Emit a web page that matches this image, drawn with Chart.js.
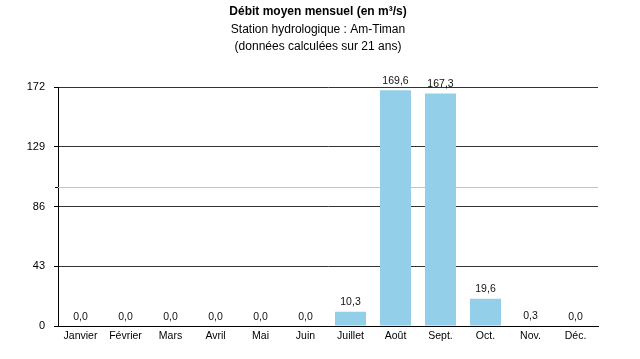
<!DOCTYPE html>
<html>
<head>
<meta charset="utf-8">
<script src="https://cdn.jsdelivr.net/npm/chart.js@4/dist/chart.umd.min.js"></script>
<style>
  html, body { margin: 0; padding: 0; background: #fff; }
  #wrap { width: 640px; height: 359px; }
</style>
</head>
<body>
<div id="wrap"><canvas id="c" width="640" height="359"></canvas></div>
<script>
const months = ['Janvier','Février','Mars','Avril','Mai','Juin','Juillet','Août','Sept.','Oct.','Nov.','Déc.'];
const debit = [0.0, 0.0, 0.0, 0.0, 0.0, 0.0, 10.3, 169.6, 167.3, 19.6, 0.3, 0.0];
const yTicks = [0, 43, 86, 129, 172];
const refLine = 100;
const titleText = 'Débit moyen mensuel (en m³/s)';
const subtitleLines = ['Station hydrologique : Am-Timan', '(données calculées sur 21 ans)'];

const FONT = '"Liberation Sans", Arial, Helvetica, sans-serif';

const headerPlugin = {
  id: 'header',
  afterDraw(chart) {
    const ctx = chart.ctx;
    const cx = 318;
    ctx.save();
    ctx.fillStyle = '#000';
    ctx.textAlign = 'center';
    ctx.textBaseline = 'middle';
    ctx.font = 'bold 12px ' + FONT;
    ctx.fillText(titleText, cx, 12);
    ctx.font = '12px ' + FONT;
    ctx.fillText(subtitleLines[0], cx, 30);
    ctx.fillText(subtitleLines[1], cx, 47);
    ctx.restore();
  }
};

const refLinePlugin = {
  id: 'refLine',
  beforeDatasetsDraw(chart) {
    const y = chart.scales.y;
    const area = chart.chartArea;
    const py = Math.round(y.getPixelForValue(refLine)) + 0.5;
    const ctx = chart.ctx;
    ctx.save();
    ctx.strokeStyle = '#c4c4c4';
    ctx.lineWidth = 1;
    ctx.beginPath();
    ctx.moveTo(area.left, py);
    ctx.lineTo(area.right, py);
    ctx.stroke();
    ctx.strokeStyle = '#000';
    ctx.beginPath();
    ctx.moveTo(area.left - 3, py);
    ctx.lineTo(area.left, py);
    ctx.stroke();
    ctx.restore();
  }
};

const valueLabels = {
  id: 'valueLabels',
  afterDatasetsDraw(chart) {
    const ctx = chart.ctx;
    const meta = chart.getDatasetMeta(0);
    ctx.save();
    ctx.font = '10.5px ' + FONT;
    ctx.fillStyle = '#111';
    ctx.textAlign = 'center';
    ctx.textBaseline = 'bottom';
    meta.data.forEach((bar, i) => {
      const v = chart.data.datasets[0].data[i];
      const txt = v.toFixed(1).replace('.', ',');
      ctx.fillText(txt, bar.x, bar.y - 4);
    });
    ctx.restore();
  }
};

new Chart(document.getElementById('c'), {
  type: 'bar',
  data: {
    labels: months,
    datasets: [{
      data: debit,
      backgroundColor: '#94cfea',
      borderWidth: 0,
      barPercentage: 0.69,
      categoryPercentage: 1.0
    }]
  },
  options: {
    responsive: false,
    animation: false,
    devicePixelRatio: 1,
    layout: { padding: { left: 0, right: 42, top: 87, bottom: 0 } },
    plugins: {
      legend: { display: false },
      tooltip: { enabled: false },
      title: { display: false },
      subtitle: { display: false }
    },
    scales: {
      x: {
        grid: { display: false, drawTicks: false },
        border: { display: true, color: '#000', width: 1 },
        ticks: {
          color: '#000',
          font: { family: FONT, size: 10.5 },
          padding: 4,
          maxRotation: 0,
          autoSkip: false
        },
        afterFit(scale) { scale.height = 33; }
      },
      y: {
        min: 0,
        max: 172,
        afterBuildTicks(scale) { scale.ticks = yTicks.map(v => ({ value: v })); },
        grid: {
          color: ctx => ctx.tick && ctx.tick.value === 0 ? '#000' : '#333',
          lineWidth: 1,
          drawTicks: true,
          tickLength: 4,
          tickColor: '#000'
        },
        border: { display: true, color: '#000', width: 1 },
        ticks: {
          color: '#000',
          font: { family: FONT, size: 11 },
          padding: 9
        },
        afterFit(scale) { scale.width = 58; }
      }
    }
  },
  plugins: [refLinePlugin, valueLabels, headerPlugin]
});
</script>
</body>
</html>
